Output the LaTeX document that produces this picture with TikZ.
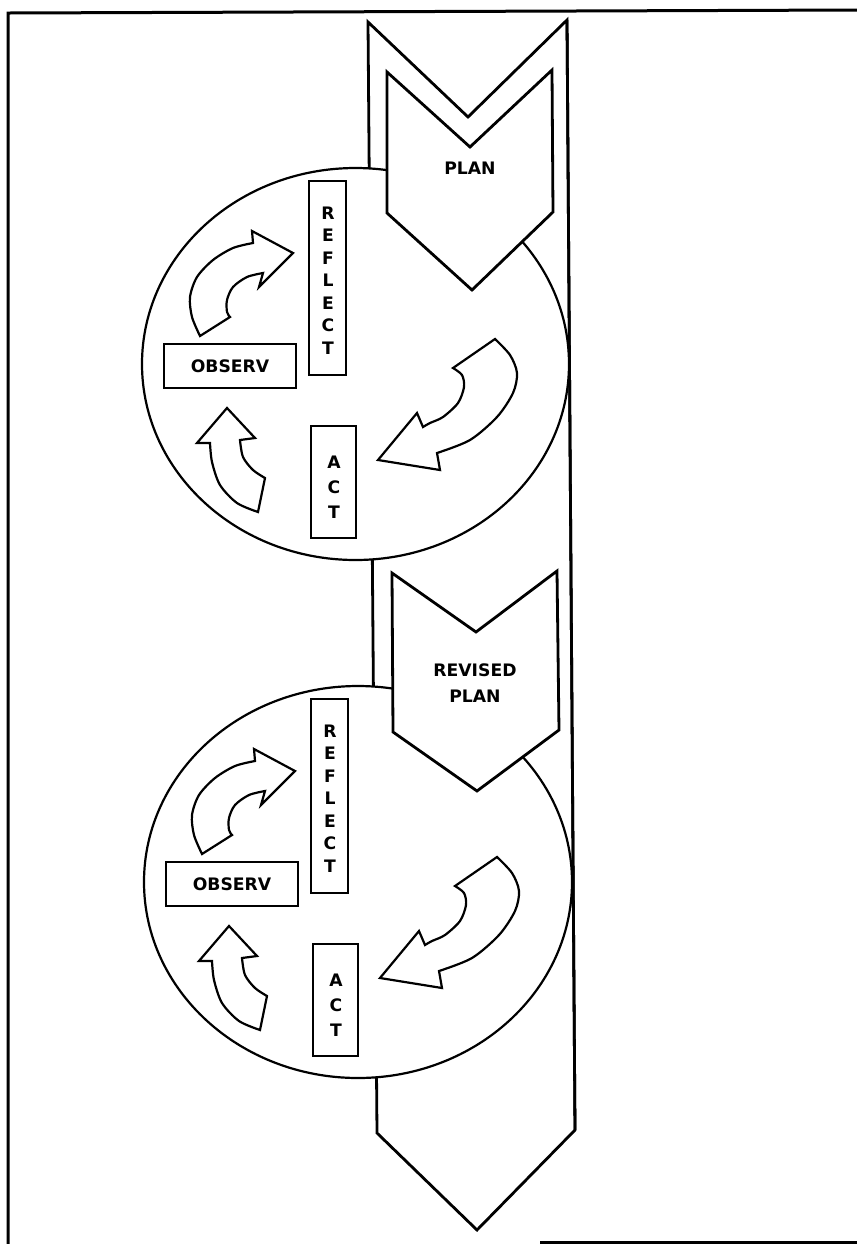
\documentclass[tikz,border=0pt]{standalone}
\usepackage{fontspec}
\newfontfamily\labfont{DejaVu Sans}
\begin{document}
\begin{tikzpicture}[x=0.5pt,y=-0.5pt,
  lab/.style={font=\labfont\bfseries\fontsize{8.6}{11.25}\selectfont, inner sep=0pt},
  planlab/.style={font=\labfont\bfseries\fontsize{8.6}{13}\selectfont, inner sep=0pt, align=center},
  outline/.style={draw=black, line width=1.4pt, line join=miter, fill=white},
  ring/.style={draw=black, line width=1.1pt, fill=white},
  box/.style={draw=black, line width=1.1pt, fill=white, inner sep=0pt},
  barrow/.style={draw=black, line width=1.1pt, fill=white, line join=miter},
  frame/.style={draw=black, line width=1.5pt}]
\useasboundingbox (0,0) rectangle (857,1244);
% outer frame
\coordinate (ftr) at (857,10);
\coordinate (ftl) at (8,13);
\coordinate (fbl) at (8,1244);
\coordinate (fb1) at (540,1242);
\coordinate (fb2) at (857,1242);
\draw[frame] (ftr) -- (ftl) -- (fbl);
\draw[frame] (fb1) -- (fb2);
% long band
\coordinate (btl) at (368,22);
\coordinate (bn) at (468,117);
\coordinate (btr) at (567,20);
\coordinate (bbr) at (575,1130);
\coordinate (bp) at (477,1230);
\coordinate (bbl) at (377,1133);
\draw[outline] (btl) -- (bn) -- (btr) -- (bbr) -- (bp) -- (bbl) -- cycle;
% cycles
\draw[ring] (355.5,364) ellipse [x radius=106.75pt, y radius=98pt];
\draw[ring] (358,882) ellipse [x radius=107pt, y radius=98pt];
\draw[line width=1.4pt] (btr) -- (bbr);
% plan chevrons
\draw[outline] (387,72) -- (470,147) -- (552,70) -- (553,212) -- (472,290) -- (387,213) -- cycle;
\node[planlab] (plan) at (470,168) {PLAN};
\draw[outline] (392,573) -- (476,632) -- (557,571) -- (559,730) -- (477,791) -- (393,732) -- cycle;
\node[planlab] (rplan) at (475,683) {REVISED\\PLAN};
% contents of each cycle
\foreach \k/\dx/\dy in {1/0/0, 2/2/518} {
\begin{scope}[shift={(\dx,\dy)}]
  \node[box, minimum width=18.5pt, minimum height=97pt] (reflectbox\k) at (327.5,278) {};
  \node[lab, align=center] (reflect\k) at (328,280.5) {R\\E\\F\\L\\E\\C\\T};
  \node[box, minimum width=66pt, minimum height=22pt] (observ\k) at (230,366) {};
  \node[lab] (observtext\k) at (230,366) {OBSERV};
  \node[box, minimum width=22.5pt, minimum height=56pt] (actbox\k) at (333.5,482) {};
  \node[lab, align=center, font=\labfont\bfseries\fontsize{8.6}{12.5}\selectfont] (act\k) at (334,487) {A\\C\\T};
  % observe -> reflect arrow
  \draw[barrow] plot[smooth] coordinates {(200,336) (192,317) (190,297) (197,277) (213,260) (233,248) (253,243)}
     -- (252,231) -- (293,253) -- (259,287) -- (263,273)
     -- plot[smooth] coordinates {(263,273) (247,277) (233,287) (227,300) (227,312) (230,317)} -- cycle;
  % act -> observe arrow
  \draw[barrow] plot[smooth] coordinates {(258,512) (237,503) (220,485) (212,462) (210,443)}
     -- (197,443) -- (227,408) -- (255,438) -- (240,440)
     -- plot[smooth] coordinates {(240,440) (243,457) (253,470) (265,478)} -- cycle;
  % plan -> act arrow
  \draw[barrow] plot[smooth] coordinates {(495,339) (510,355) (517,373) (513,393) (497,417) (470,440) (437,453)}
     -- (440,470) -- (378,460) -- (417,413) -- (423,427)
     -- plot[smooth] coordinates {(423,427) (430,423) (443,417) (458,403) (464,387) (462,375) (453,368)} -- cycle;
\end{scope}
}
\end{tikzpicture}
\end{document}
